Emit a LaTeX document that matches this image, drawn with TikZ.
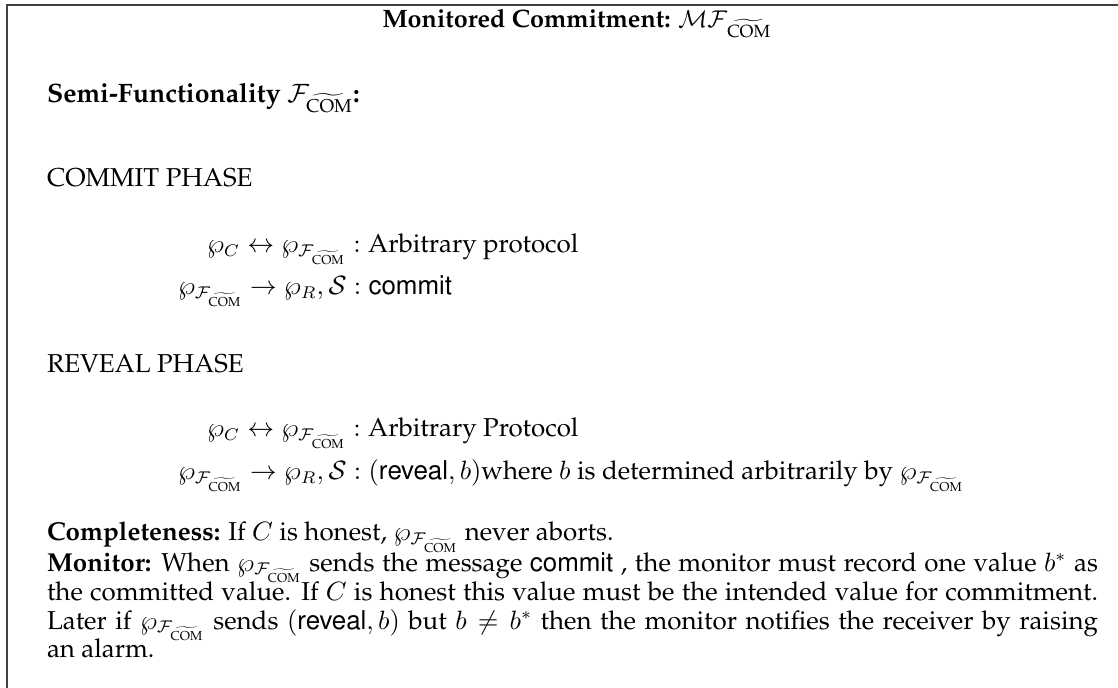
\documentclass[tikz,border=0pt]{standalone}
\usepackage[T1]{fontenc}
\usepackage{amsmath}
\usepackage{palatino}
\usepackage{helvet}
\newcommand\tcom{\widetilde{\text{\normalfont COM}}}
\newcommand\Fcom{\mathcal{F}_{\tcom}}
\newlength\pxu
\setlength\pxu{0.4132pt}
\newcommand\jline[1]{\makebox[1051\pxu][s]{#1}}
\begin{document}
\begin{tikzpicture}[x=0.4132pt,y=-0.4132pt,
  txt/.style={anchor=base west, inner sep=0pt, outer sep=0pt, font=\fontsize{10.7}{13}\selectfont},
  headtxt/.style={txt, font=\fontsize{11}{13}\selectfont\bfseries},
  frameline/.style={line width=0.9pt, draw=black!75}]
\useasboundingbox (0,0) rectangle (1118,688);
\coordinate (fbl) at (7,688);
\coordinate (ftl) at (7,5);
\coordinate (ftr) at (1118,5);
\draw[frameline] (fbl) -- (ftl) -- (ftr);
\node[headtxt, anchor=base, font=\fontsize{10.4}{13}\selectfont\bfseries] (title) at (577,28) {Monitored Commitment: $\mathcal{MF}_{\tcom}$};
\node[headtxt] (semi) at (47,103) {Semi-Functionality $\Fcom$:};
\node[txt] (commitph) at (47,187) {COMMIT PHASE};
\node[txt] (l1) at (207,253) {$\wp_C \leftrightarrow \wp_{\Fcom} : \text{Arbitrary protocol}$};
\node[txt] (l2) at (178,295) {$\wp_{\Fcom} \rightarrow \wp_R, \mathcal{S} : \textsf{commit}$};
\node[txt] (revealph) at (47,373) {REVEAL PHASE};
\node[txt] (l3) at (207,437) {$\wp_C \leftrightarrow \wp_{\Fcom} : \text{Arbitrary Protocol}$};
\node[txt] (l4) at (178,480) {$\wp_{\Fcom} \rightarrow \wp_R, \mathcal{S} : (\textsf{reveal}, b)\text{where } b \text{ is determined arbitrarily by } \wp_{\Fcom}$};
\node[txt] (p1) at (47,541) {\textbf{Completeness:} If $C$ is honest, $\wp_{\Fcom}$ never aborts.};
\node[txt] (p2) at (47,571) {\jline{\textbf{Monitor:} When $\wp_{\Fcom}$ sends the message \textsf{commit} , the monitor must record one value $b^*$ as}};
\node[txt] (p3) at (47,600) {\jline{the committed value. If $C$ is honest this value must be the intended value for commitment.}};
\node[txt] (p4) at (47,629) {\jline{Later if $\wp_{\Fcom}$ sends $(\textsf{reveal}, b)$ but $b \neq b^*$ then the monitor notifies the receiver by raising}};
\node[txt] (p5) at (47,657) {an alarm.};
\end{tikzpicture}
\end{document}
